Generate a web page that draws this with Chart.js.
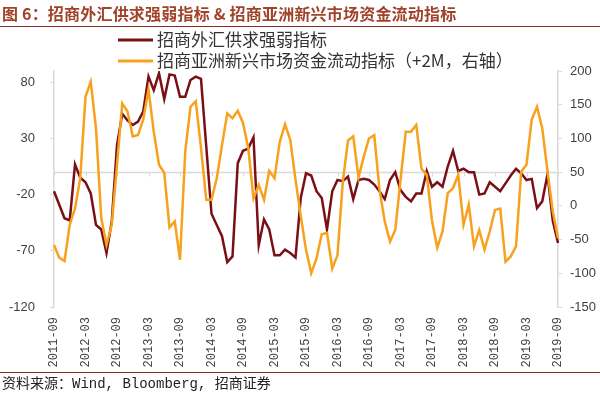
<!DOCTYPE html>
<html>
<head>
<meta charset="utf-8">
<script src="https://cdn.jsdelivr.net/npm/chart.js@4.4.1/dist/chart.umd.min.js"></script>
<style>
html,body{margin:0;padding:0;background:#fff;}
#wrap{position:relative;width:600px;height:395px;overflow:hidden;background:#fff;}
#title{position:absolute;left:2px;top:3px;font-weight:bold;font-size:16px;letter-spacing:0.2px;font-family:'Noto Sans CJK SC',sans-serif;color:#A0432A;white-space:nowrap;line-height:20px;}
#tline{position:absolute;left:0;top:26px;width:600px;height:0;border-top:1.5px solid #8C2D1E;}
#bline{position:absolute;left:0;top:372px;width:600px;height:0;border-top:1.5px solid #8C2D1E;}
#src{position:absolute;left:2px;top:376px;font-size:14px;font-family:'Liberation Mono','Noto Sans CJK SC',monospace;color:#222;white-space:nowrap;line-height:17px;}
canvas{position:absolute;left:0;top:0;}
</style>
</head>
<body>
<div id="wrap">
<canvas id="c" width="600" height="395"></canvas>
<div id="title">图 6：招商外汇供求强弱指标 &amp; 招商亚洲新兴市场资金流动指标</div>
<div id="tline"></div>
<div id="bline"></div>
<div id="src">资料来源：Wind, Bloomberg, 招商证券</div>
</div>
<script>
// Categories: monthly, 2011-09 .. 2019-09
const startYear = 2011, startMonth = 9, monthCount = 97;
const months = [];
for (let k = 0; k < monthCount; k++) {
  const m = startMonth - 1 + k;
  const y = startYear + Math.floor(m / 12);
  const mm = (m % 12) + 1;
  months.push(y + '-' + (mm < 10 ? '0' + mm : mm));
}
const tickLabels = ['2011-09','2012-03','2012-09','2013-03','2013-09','2014-03','2014-09','2015-03','2015-09','2016-03','2016-09','2017-03','2017-09','2018-03','2018-09','2019-03','2019-09'];
const leftTicks = [-120, -70, -20, 30, 80];
const rightTicks = [-150, -100, -50, 0, 50, 100, 150, 200];

const seriesNames = ['招商外汇供求强弱指标', '招商亚洲新兴市场资金流动指标（+2M，右轴）'];

// 招商外汇供求强弱指标 (left axis)
const fxIndex = [
  -17, -29, -41, -43, 7, -5, -9, -19, -47, -51,
  -72, -44, 24, 52, 46, 42, 45, 54, 85, 73,
  88, 65, 87, 86, 67, 67, 82, 85, 83, 23,
  -37, -47, -57, -80, -75, 8, 19, 21, 31, -65,
  -42, -51, -74, -74, -69, -72, -76, -23, -1, -3,
  -17, -23, -51, -17, -7, -8, -4, -24, -7, -6,
  -7, -11, -17, -24, -7, 0, -16, -22, -26, -19,
  -19, 1, -13, -9, -13, 5, 19, 1, 3, 0,
  0, -20, -19, -9, -13, -17, -10, -3, 3, -1,
  -7, -6, -32, -26, -2, -43, -63
];
// 招商亚洲新兴市场资金流动指标 (+2M, right axis)
const emFlow = [
  -58, -77, -82, -28, -4, 41, 162, 184, 115, -18,
  -58, -28, 61, 152, 140, 103, 105, 128, 173, 110,
  61, 49, -32, -23, -80, 81, 147, 155, 86, 9,
  9, 41, 90, 137, 130, 141, 123, 86, 11, 31,
  9, 52, 41, 95, 121, 98, 39, -15, -65, -100,
  -78, -42, -40, -93, -73, 35, 97, 103, 42, 73,
  100, 105, 24, -23, -53, -36, 38, 110, 110, 120,
  55, 46, -22, -62, -38, 19, 26, 46, -28, 2,
  -60, -36, -65, -38, -6, -4, -83, -75, -60, 51,
  61, 128, 147, 115, 51, -8, -48
];

const darkRed = '#7A1015';
const orange = '#F7A11D';
const axisGray = '#d9d9d9';
const tickColor = '#404040';

const legendPlugin = {
  id: 'customLegend',
  afterDraw(chart) {
    const ctx = chart.ctx;
    const rows = [{y: 40}, {y: 61}];
    ctx.save();
    chart.data.datasets.forEach((ds, i) => {
      const y = rows[i].y;
      ctx.strokeStyle = ds.borderColor;
      ctx.lineWidth = 3;
      ctx.beginPath();
      ctx.moveTo(118, y);
      ctx.lineTo(153, y);
      ctx.stroke();
      ctx.fillStyle = '#333';
      ctx.font = '17px "Noto Sans CJK SC", sans-serif';
      ctx.textBaseline = 'middle';
      ctx.textAlign = 'left';
      ctx.fillText(ds.label, 157, y);
    });
    ctx.restore();
  }
};

const zeroLinePlugin = {
  id: 'zeroLine',
  beforeDatasetsDraw(chart) {
    const ctx = chart.ctx;
    const ya = chart.scales.y;
    const xa = chart.scales.x;
    const y0 = Math.round(ya.getPixelForValue(0)) + 0.5;
    ctx.save();
    ctx.strokeStyle = axisGray;
    ctx.lineWidth = 1.5;
    ctx.beginPath();
    ctx.moveTo(chart.chartArea.left, y0);
    ctx.lineTo(chart.chartArea.right, y0);
    ctx.stroke();
    ctx.lineWidth = 1;
    months.forEach((m, i) => {
      if (tickLabels.includes(m)) {
        const x = Math.round(xa.getPixelForValue(i)) + 0.5;
        ctx.beginPath();
        ctx.moveTo(x, y0);
        ctx.lineTo(x, y0 + 4);
        ctx.stroke();
      }
    });
    ctx.restore();
  }
};

new Chart(document.getElementById('c'), {
  type: 'line',
  data: {
    labels: months,
    datasets: [
      { label: seriesNames[0], data: fxIndex, yAxisID: 'y', borderColor: darkRed, backgroundColor: darkRed,
        borderWidth: 2.5, pointRadius: 0, tension: 0, fill: false, order: 1 },
      { label: seriesNames[1], data: emFlow, yAxisID: 'y1', borderColor: orange, backgroundColor: orange,
        borderWidth: 2.5, pointRadius: 0, tension: 0, fill: false, order: 0 }
    ]
  },
  options: {
    responsive: false,
    animation: false,
    devicePixelRatio: 1,
    layout: { padding: { top: 71, bottom: 22, left: 0, right: 0 } },
    plugins: { legend: { display: false }, tooltip: { enabled: false }, title: { display: false } },
    scales: {
      x: {
        type: 'category',
        offset: false,
        grid: { display: false, drawTicks: false, tickLength: 0 },
        border: { display: false },
        ticks: {
          autoSkip: false, maxRotation: 90, minRotation: 90, padding: 10,
          font: { family: 'Liberation Mono', size: 12 }, color: tickColor,
          callback: function (v) { const l = this.getLabelForValue(v); return tickLabels.includes(l) ? l : ''; }
        },
        afterFit(s) { s.height = 66; }
      },
      y: {
        position: 'left', min: -120, max: 90,
        afterBuildTicks(s) { s.ticks = leftTicks.map(v => ({ value: v })); },
        grid: { drawOnChartArea: false, color: axisGray, tickLength: 4 },
        border: { color: axisGray, width: 1.5 },
        ticks: { font: { family: 'Liberation Sans', size: 13 }, color: tickColor, padding: 15 },
        afterFit(s) { s.width = 54; }
      },
      y1: {
        position: 'right', min: -150, max: 200,
        afterBuildTicks(s) { s.ticks = rightTicks.map(v => ({ value: v })); },
        grid: { drawOnChartArea: false, color: axisGray, tickLength: 4 },
        border: { color: axisGray, width: 1.5 },
        ticks: { font: { family: 'Liberation Sans', size: 13 }, color: tickColor, padding: 8 },
        afterFit(s) { s.width = 42; }
      }
    }
  },
  plugins: [zeroLinePlugin, legendPlugin]
});
</script>
</body>
</html>
